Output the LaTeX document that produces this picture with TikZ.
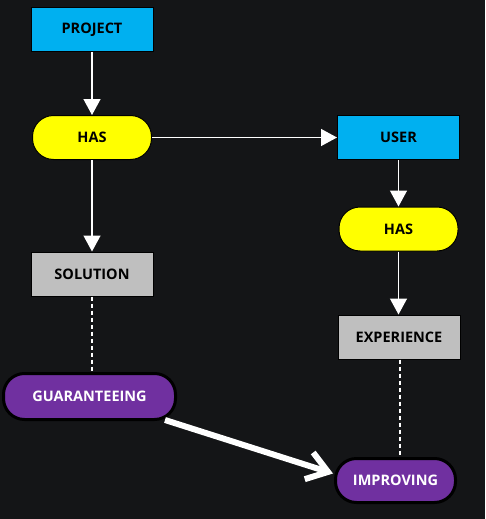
\documentclass[tikz,border=0pt]{standalone}
\usepackage{fontspec}
\setmainfont{Open Sans}
\usetikzlibrary{arrows.meta}
\definecolor{bg}{HTML}{141517}
\definecolor{cblue}{HTML}{00B0F0}
\definecolor{cyellow}{HTML}{FFFF00}
\definecolor{cgray}{HTML}{BFBFBF}
\definecolor{cpurple}{HTML}{7030A0}
\tikzset{
  lbl/.style={font=\fontsize{14.5}{16}\selectfont\bfseries, inner sep=0pt},
  bluebox/.style={lbl, draw=black, line width=1pt, fill=cblue, text=black, minimum width=122pt, minimum height=44pt},
  graybox/.style={lbl, draw=black, line width=1pt, fill=cgray, text=black, minimum width=122pt, minimum height=44pt},
  yellowpill/.style={lbl, draw=black, line width=1pt, fill=cyellow, text=black, minimum width=119pt, minimum height=44pt, rounded corners=21pt},
  purplepill/.style={lbl, draw=black, line width=3pt, fill=cpurple, text=white, rounded corners=21pt},
  conn/.style={draw=white, line width=1.4pt, -{Triangle[length=16pt,width=17pt]}},
  dashconn/.style={draw=white, line width=1.4pt, dash pattern=on 4pt off 3pt},
  bigconn/.style={draw=white, line width=6pt, -{Straight Barb[length=20pt,width=28pt]}},
}
\begin{document}
\begin{tikzpicture}[x=1pt,y=-1pt]
\useasboundingbox (0,0) rectangle (485,519);
\fill[bg] (0,0) rectangle (485,519);
\node[bluebox] (project) at (92,29.5) {PROJECT};
\node[yellowpill] (has1) at (92,137.5) {HAS};
\node[bluebox] (user) at (398.5,137.5) {USER};
\node[yellowpill] (has2) at (398.5,229) {HAS};
\node[graybox] (solution) at (92,274) {SOLUTION};
\node[graybox] (experience) at (399,337) {EXPERIENCE};
\node[purplepill, minimum width=172pt, minimum height=46pt] (guar) at (89.5,396.5) {GUARANTEEING};
\node[purplepill, minimum width=120pt, minimum height=44pt] (imp) at (395.5,480.5) {IMPROVING};
\draw[conn] (project) -- (has1);
\draw[conn] (has1) -- (user);
\draw[conn] (has1) -- (solution);
\draw[conn] (user) -- (has2);
\draw[conn] (has2) -- (has2 |- experience.north);
\draw[dashconn] (solution.south) -- (solution.south |- guar.north);
\draw[dashconn] ([xshift=1pt]experience.south) -- ([xshift=1pt]experience.south |- imp.north);
\coordinate (gstart) at ([xshift=-12pt,yshift=1pt]guar.south east);
\coordinate (gend) at ([xshift=-1pt,yshift=7pt]imp.west);
\draw[bigconn] (gstart) -- (gend);
\end{tikzpicture}
\end{document}
